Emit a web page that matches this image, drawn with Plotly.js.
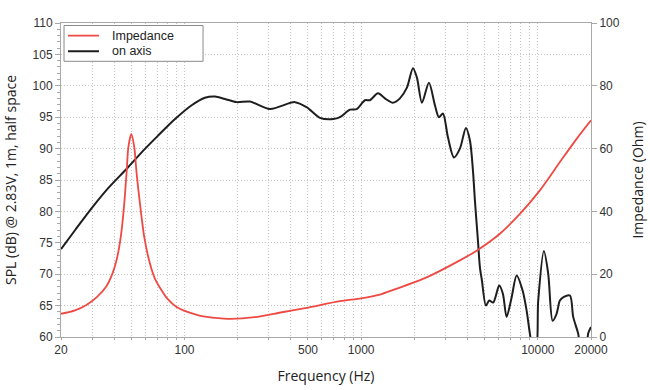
<!DOCTYPE html>
<html>
<head>
<meta charset="utf-8">
<script src="https://cdn.plot.ly/plotly-3.0.1.min.js"></script>
<style>html,body{margin:0;padding:0;background:#fff;}#chart{width:650px;height:390px;}</style>
</head>
<body>
<div id="chart"></div>
<script>
// On-axis SPL (dB), frequency in Hz
const splFreq = [20, 24, 30, 37, 47.1, 57.2, 71.1, 88.4, 109.8, 130.6, 148.8, 169.5, 197.4, 234.8, 304.7, 422, 491, 584.7, 695, 758.5, 864, 943, 1051, 1121, 1245, 1363, 1513, 1658, 1816, 1964, 2069, 2208, 2419, 2616, 2755, 2904, 3099, 3351, 3623, 3917, 4129, 4294, 4406, 4581, 4702, 4826, 5084, 5308, 5592, 6046, 6343, 6656, 7107, 7586, 8202, 8643, 9022, 9380, 9754, 10051, 10825, 11451, 12126, 12771, 13335, 14046, 15194, 15862, 16933, 17534, 18716, 19289, 20000];
const splDb = [74.0, 77.0, 80.6, 83.7, 86.8, 89.4, 92.1, 94.7, 96.9, 98.1, 98.3, 97.9, 97.4, 97.5, 96.3, 97.4, 96.6, 94.9, 94.7, 95.0, 96.2, 96.3, 97.7, 97.7, 98.8, 98.0, 97.3, 98.0, 99.7, 102.8, 101.3, 97.3, 100.5, 96.9, 95.0, 95.6, 91.8, 88.6, 90.0, 93.3, 91.3, 86.5, 81.7, 75.4, 71.1, 69.0, 65.0, 65.8, 65.5, 68.2, 66.9, 63.2, 66.3, 69.8, 67.4, 64.2, 60.5, 58.0, 58.0, 65.8, 73.7, 70.1, 62.6, 63.7, 65.8, 66.4, 66.6, 63.2, 60.5, 58.0, 58.0, 60.6, 61.6];

// Impedance (Ohm), frequency in Hz
const impFreq = [20, 24, 28, 32, 36, 39, 41.3, 43.7, 45.6, 47.1, 48.1, 50, 52.0, 53.6, 56.0, 59.2, 63.8, 68, 74.3, 80, 88, 94, 105, 120, 131, 177, 250, 350, 491, 759, 1000, 1277, 1520, 2348, 3620, 4505, 6100, 7917, 10275, 13337, 16580, 20000];
const impOhm = [7.4, 8.5, 10.3, 12.8, 16.0, 20.0, 24.6, 32.4, 42.4, 53.0, 60.4, 64.7, 60.4, 52.0, 42.4, 31.8, 23.3, 18.6, 14.8, 12.2, 10.0, 9.0, 7.9, 6.9, 6.5, 5.8, 6.3, 7.8, 9.3, 11.4, 12.3, 13.5, 15.0, 19.0, 24.4, 27.5, 32.9, 39.2, 46.7, 55.7, 63.1, 69.0];

const xTickVals = [20, 100, 500, 1000, 10000, 20000];
const xTickText = ['20', '100', '500', '1000', '10000', '20000'];
const xMinorVals = [30, 40, 50, 60, 70, 80, 90, 200, 300, 400, 600, 700, 800, 900, 2000, 3000, 4000, 5000, 6000, 7000, 8000, 9000];

const seriesNames = ['Impedance', 'on axis'];
const redColor = '#ee4a44';
const blackColor = '#1e1e1e';

const tickFont = {family: 'Liberation Sans, Arial, sans-serif', size: 12, color: '#333'};
const titleFont = {family: 'Open Sans, sans-serif', size: 14, color: '#222'};
const gridColor = '#c4c4c4';
const gridDash = '1px,2px';
const axisLine = '#a8a8a8';

const traces = [
  {
    x: impFreq, y: impOhm, yaxis: 'y2', type: 'scatter', mode: 'lines',
    name: seriesNames[0], line: {color: redColor, width: 1.8, shape: 'spline', smoothing: 0.7},
    showlegend: false, hoverinfo: 'skip'
  },
  {
    x: splFreq, y: splDb, type: 'scatter', mode: 'lines',
    name: seriesNames[1], line: {color: blackColor, width: 2, shape: 'spline', smoothing: 0.8},
    showlegend: false, hoverinfo: 'skip'
  }
];

const layout = {
  width: 650, height: 390,
  margin: {l: 61, r: 59, t: 23, b: 53},
  paper_bgcolor: '#fff', plot_bgcolor: '#fff',
  showlegend: false,
  xaxis: {
    type: 'log', range: [Math.log10(20), Math.log10(20000)],
    tickmode: 'array', tickvals: xTickVals, ticktext: xTickText,
    tickfont: tickFont, ticks: 'outside', ticklen: 2, tickcolor: axisLine,
    showgrid: true, gridcolor: gridColor, griddash: gridDash, gridwidth: 1,
    minor: {tickmode: 'array', tickvals: xMinorVals, showgrid: true, gridcolor: gridColor, griddash: gridDash, ticks: 'outside', ticklen: 2, tickcolor: axisLine},
    showline: true, linecolor: axisLine, linewidth: 1, mirror: true,
    zeroline: false,
    title: {text: 'Frequency (Hz)', font: titleFont, standoff: 14}
  },
  yaxis: {
    range: [60, 110], dtick: 5, tick0: 60,
    tickfont: tickFont, ticks: 'outside', ticklen: 5, tickcolor: axisLine,
    showgrid: true, gridcolor: gridColor, griddash: gridDash, gridwidth: 1,
    minor: {dtick: 1, ticks: 'outside', ticklen: 3, tickcolor: axisLine, showgrid: false},
    showline: true, linecolor: axisLine, linewidth: 1, mirror: true,
    zeroline: false,
    title: {text: 'SPL (dB) @ 2.83V, 1m, half space', font: titleFont, standoff: 12}
  },
  yaxis2: {
    overlaying: 'y', side: 'right', range: [0, 100], dtick: 20, tick0: 0,
    tickfont: tickFont, ticks: 'outside', ticklen: 5, tickcolor: axisLine,
    showgrid: false, zeroline: false,
    showline: true, linecolor: axisLine, linewidth: 1,
    title: {text: 'Impedance (Ohm)', font: titleFont, standoff: 14}
  },
  shapes: [
    {type: 'rect', xref: 'paper', yref: 'paper', x0: 0.0057, x1: 0.268, y0: 0.878, y1: 0.992,
     line: {color: '#8a8a8a', width: 1}, fillcolor: '#fff', layer: 'above'},
    {type: 'line', xref: 'paper', yref: 'paper', x0: 0.0132, x1: 0.0717, y0: 0.960, y1: 0.960,
     line: {color: redColor, width: 1.8}, layer: 'above'},
    {type: 'line', xref: 'paper', yref: 'paper', x0: 0.0132, x1: 0.0717, y0: 0.910, y1: 0.910,
     line: {color: blackColor, width: 2}, layer: 'above'}
  ],
  annotations: [
    {xref: 'paper', yref: 'paper', x: 0.0925, y: 0.960, xanchor: 'left', yanchor: 'middle',
     text: seriesNames[0], showarrow: false, font: {family: 'Liberation Sans, Arial, sans-serif', size: 12.5, color: '#222'}},
    {xref: 'paper', yref: 'paper', x: 0.0925, y: 0.910, xanchor: 'left', yanchor: 'middle',
     text: seriesNames[1], showarrow: false, font: {family: 'Liberation Sans, Arial, sans-serif', size: 12.5, color: '#222'}}
  ]
};

Plotly.newPlot('chart', traces, layout, {staticPlot: true, displayModeBar: false});
</script>
</body>
</html>
